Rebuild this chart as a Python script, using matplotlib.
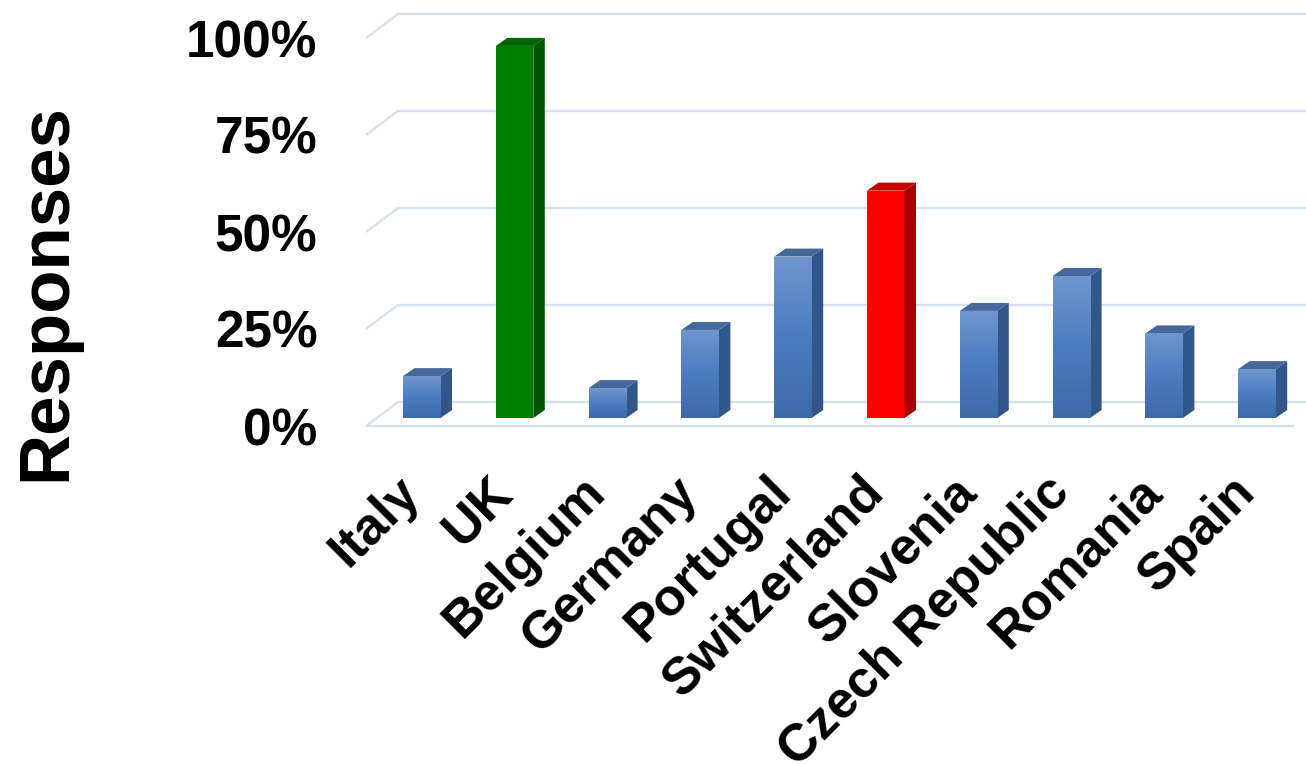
import numpy as np
import matplotlib
matplotlib.use("Agg")
import matplotlib.pyplot as plt
from matplotlib.patches import Polygon
from matplotlib.colors import LinearSegmentedColormap

# values (percent of responses)
countries = ["Italy", "UK", "Belgium", "Germany", "Portugal", "Switzerland",
             "Slovenia", "Czech Republic", "Romania", "Spain"]
responses = [10.8, 95.9, 7.7, 22.7, 41.6, 58.6, 27.6, 36.6, 21.8, 12.6]
highlight = {"UK": "green", "Switzerland": "red"}
yticks = [0, 25, 50, 75, 100]
ytick_labels = ["0%", "25%", "50%", "75%", "100%"]

plt.rcParams["font.family"] = ["Liberation Sans", "DejaVu Sans"]
plt.rcParams["font.weight"] = "bold"

# face colours: front (solid or gradient), side, top
faces = {
    "blue": {"front": ("#7096CF", "#4A7DC0", "#3D69A8"), "side": "#33568A", "top": "#47689A"},
    "green": {"front": ("#008000",), "side": "#005600", "top": "#006400"},
    "red": {"front": ("#FF0000",), "side": "#A80000", "top": "#C40000"},
}
grid_color = "#D5DFF0"

# fake 3d geometry (category units along x, percent units along y)
px_per_cat = 92.8
px_per_pct = 3.88
bar_w = 37.5 / px_per_cat
depth_x = 11.5 / px_per_cat
depth_y = 8 / px_per_pct
floor_front = -8 / px_per_pct
wall_back = 16 / px_per_pct
x_left = (366 - 421.75) / px_per_cat
x_right = (1306 - 421.75) / px_per_cat
floor_end = (1292.5 - 421.75) / px_per_cat
wall_dx = 32 / px_per_cat

fig = plt.figure(figsize=(13.06, 7.64), dpi=100)
ax = fig.add_axes([366 / 1306, 324 / 764, 940 / 1306, 440 / 764])

# walls: diagonals on the left wall, gridlines on the back wall
for v in yticks:
    ax.plot([x_left, x_left + wall_dx], [v + floor_front, v + wall_back],
            color=grid_color, lw=1.7, zorder=1, solid_capstyle="butt")
    ax.plot([x_left + wall_dx, x_right + 1], [v + wall_back, v + wall_back],
            color=grid_color, lw=1.7, zorder=1)
ax.plot([x_left, floor_end], [floor_front, floor_front], color=grid_color, lw=1.7, zorder=1)

x = np.arange(len(countries))
for i, (name, val) in enumerate(zip(countries, responses)):
    style = faces[highlight.get(name, "blue")]
    x0 = x[i] - bar_w / 2
    x1 = x[i] + bar_w / 2
    rect = ax.bar(x[i], val, width=bar_w, color=style["front"][0], zorder=3)[0]
    if len(style["front"]) > 1:
        cmap = LinearSegmentedColormap.from_list("bargrad", list(style["front"]))
        grad = np.linspace(0, 1, 256).reshape(-1, 1)
        im = ax.imshow(grad, extent=[x0, x1, 0, val], origin="upper", aspect="auto",
                       cmap=cmap, zorder=3.5)
        im.set_clip_path(rect)
    side = Polygon([[x1, 0], [x1 + depth_x, depth_y], [x1 + depth_x, val + depth_y], [x1, val]],
                   closed=True, facecolor=style["side"], edgecolor="none", zorder=3)
    top = Polygon([[x0, val], [x1, val], [x1 + depth_x, val + depth_y], [x0 + depth_x, val + depth_y]],
                  closed=True, facecolor=style["top"], edgecolor="none", zorder=3)
    ax.add_patch(side)
    ax.add_patch(top)

ax.set_xlim(x_left, x_right)
ax.set_ylim((418 - 440) / px_per_pct, 418 / px_per_pct)

for s in ax.spines.values():
    s.set_visible(False)

ax.set_yticks([v + floor_front for v in yticks], ytick_labels)
ax.tick_params(axis="y", length=0, pad=35, labelsize=37)
ax.set_xticks(x, countries)
ax.tick_params(axis="x", length=0, pad=39, labelsize=37.5)
plt.setp(ax.get_xticklabels(), rotation=45, ha="right", va="baseline",
         rotation_mode="anchor")

fig.text(47 / 1306, 1 - 292 / 764, "Responses", rotation=90, ha="center", va="center",
         fontsize=51, fontweight="bold")

fig.savefig("out.png", dpi=100)
